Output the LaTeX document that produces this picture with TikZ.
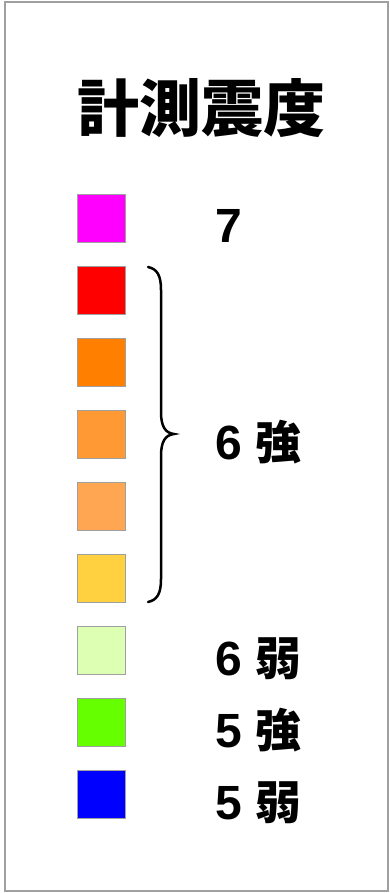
\documentclass[tikz,border=0pt]{standalone}
\usepackage{fontspec}
\setmainfont{Liberation Sans}
\newfontfamily\cjk{Noto Sans CJK JP}
\definecolor{cMag}{HTML}{FF00FF}
\definecolor{cRed}{HTML}{FF0000}
\definecolor{cOrA}{HTML}{FF8000}
\definecolor{cOrB}{HTML}{FF9933}
\definecolor{cOrC}{HTML}{FFA652}
\definecolor{cYel}{HTML}{FFD040}
\definecolor{cLgr}{HTML}{DDFFB3}
\definecolor{cGrn}{HTML}{66FF00}
\definecolor{cBlu}{HTML}{0000FF}
\definecolor{frameGray}{HTML}{A0A0A0}
\definecolor{boxGray}{HTML}{A0A0A0}
\newcommand{\kj}[1]{{\cjk\bfseries\fontsize{46pt}{46pt}\selectfont #1}}
\tikzset{
  swatch/.style={draw=boxGray, line width=1pt, minimum width=48pt, minimum height=48pt, inner sep=0pt, anchor=north west},
  lab/.style={anchor=base west, inner sep=0pt, font=\bfseries\fontsize{48pt}{48pt}\selectfont},
}
\begin{document}
\begin{tikzpicture}[x=1pt,y=-1pt]
\useasboundingbox (0,0) rectangle (389,893);
\fill[white] (0,0) rectangle (389,893);
\draw[frameGray, line width=1.2pt] (5,2) rectangle (388,891);
\node[anchor=base, inner sep=0pt, font=\cjk\bfseries\fontsize{62pt}{62pt}\selectfont] (title) at (201,132) {計測震度};
\node[swatch, fill=cMag] (s1) at (77,194) {};
\node[swatch, fill=cRed] (s2) at (77,266) {};
\node[swatch, fill=cOrA] (s3) at (77,338) {};
\node[swatch, fill=cOrB] (s4) at (77,410) {};
\node[swatch, fill=cOrC] (s5) at (77,482) {};
\node[swatch, fill=cYel] (s6) at (77,554) {};
\node[swatch, fill=cLgr] (s7) at (77,626) {};
\node[swatch, fill=cGrn] (s8) at (77,698) {};
\node[swatch, fill=cBlu] (s9) at (77,770) {};
\node[lab] (l7) at (215,242) {7};
\node[lab] (l6s) at (215,459) {6 \kj{強}};
\node[lab] (l6w) at (215,675) {6 \kj{弱}};
\node[lab] (l5s) at (215,747) {5 \kj{強}};
\node[lab] (l5w) at (215,819) {5 \kj{弱}};
\coordinate (bt) at (148,267);
\coordinate (bb) at (148,602);
\coordinate (bm) at (174,434);
\draw[line width=2.5pt, line cap=round] (bt) .. controls (157,269) and (161,275) .. (161,290)
  -- (161,412) .. controls (161,426) and (165,433) .. (bm)
  .. controls (165,435) and (161,442) .. (161,456)
  -- (161,579) .. controls (161,594) and (157,600) .. (bb);
\end{tikzpicture}
\end{document}
